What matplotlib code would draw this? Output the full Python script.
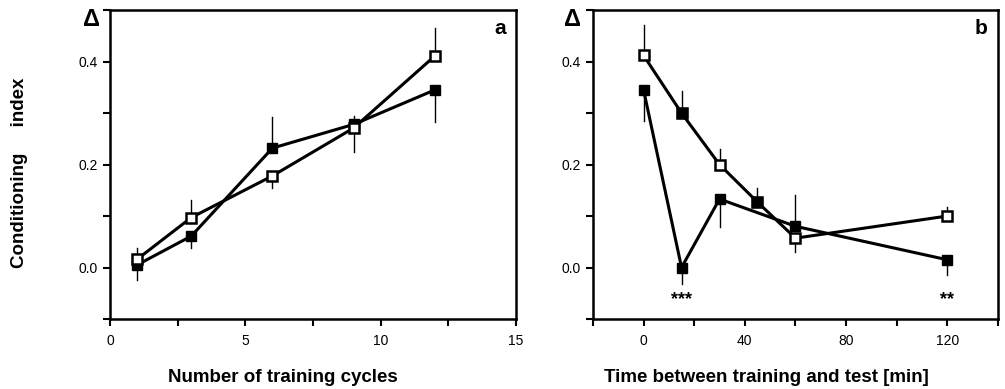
#! /usr/bin/env python3

import numpy as np
import matplotlib.pyplot as plt
from matplotlib.ticker import MultipleLocator

# Panel a: training cycles
cycles = [1, 3, 6, 9, 12]
a_open = [0.016, 0.097, 0.178, 0.271, 0.411]
a_open_err = [0.021, 0.035, -0.023, -0.046, 0.054]   # sign = direction of the one-sided bar
a_filled = [0.005, 0.061, 0.232, 0.278, 0.345]
a_filled_err = [-0.029, -0.024, 0.060, 0.017, -0.063]

# Panel b: time between training and test
t_open = [0, 15, 30, 45, 60, 120]
b_open = [0.412, 0.300, 0.200, 0.127, 0.057, 0.100]
b_open_err = [0.060, 0.043, 0.030, 0.028, -0.027, 0.017]
t_filled = [0, 15, 30, 60, 120]
b_filled = [0.345, 0.000, 0.133, 0.080, 0.015]
b_filled_err = [-0.061, -0.033, -0.054, 0.061, -0.030]

stars_x = [15, 120]
stars = ['***', '**']

plt.rcParams['font.family'] = ['Liberation Sans', 'DejaVu Sans']


def one_sided(ax, x, y, err):
    """ draw the thin one-sided error bars """
    for xi, yi, e in zip(x, y, err):
        ax.plot([xi, xi], [yi, yi + e], color='black', lw=1.0, zorder=1)


def style_axes(ax):
    for s in ax.spines.values():
        s.set_linewidth(1.8)
    ax.set_ylim(-0.1, 0.5)
    ax.yaxis.set_major_locator(MultipleLocator(0.2))
    ax.yaxis.set_minor_locator(MultipleLocator(0.1))
    ax.tick_params(which='both', direction='out', length=5, width=1.5,
                   labelsize=10, top=False, right=False)
    ax.tick_params(axis='x', pad=6)
    ax.set_yticks([0.0, 0.2, 0.4])
    ax.set_yticklabels(['0.0', '0.2', '0.4'])


fig = plt.figure(figsize=(10.05, 3.89), dpi=100)
ax1 = fig.add_axes([0.1095, 0.180, 0.404, 0.794])
ax2 = fig.add_axes([0.590, 0.180, 0.403, 0.794])

# panel a
one_sided(ax1, cycles, a_open, a_open_err)
one_sided(ax1, cycles, a_filled, a_filled_err)
ax1.plot(cycles, a_filled, color='black', lw=2.2, marker='s', ms=6.5,
         mfc='black', mec='black', zorder=3)
ax1.plot(cycles, a_open, color='black', lw=2.2, marker='s', ms=6.5,
         mfc='white', mec='black', mew=1.8, zorder=3)
ax1.set_xlim(0, 15)
ax1.xaxis.set_major_locator(MultipleLocator(5))
ax1.xaxis.set_minor_locator(MultipleLocator(2.5))
style_axes(ax1)
ax1.text(0.975, 0.94, 'a', transform=ax1.transAxes, ha='right', va='center',
         fontsize=15, fontweight='bold')

# panel b
one_sided(ax2, t_open, b_open, b_open_err)
one_sided(ax2, t_filled, b_filled, b_filled_err)
ax2.plot(t_filled, b_filled, color='black', lw=2.2, marker='s', ms=6.5,
         mfc='black', mec='black', zorder=3)
ax2.plot(t_open, b_open, color='black', lw=2.2, marker='s', ms=6.5,
         mfc='white', mec='black', mew=1.8, zorder=3)
# two points of the upper curve are printed solid
solid = [1, 3]
ax2.plot([t_open[i] for i in solid], [b_open[i] for i in solid], ls='none',
         marker='s', ms=6.5, mfc='black', mec='black', zorder=4)
for xs, s in zip(stars_x, stars):
    ax2.text(xs, -0.062, s, ha='center', va='center', fontsize=13,
             fontweight='bold')
ax2.set_xlim(-20, 140)
ax2.xaxis.set_major_locator(MultipleLocator(40))
ax2.xaxis.set_minor_locator(MultipleLocator(20))
style_axes(ax2)
ax2.text(0.975, 0.94, 'b', transform=ax2.transAxes, ha='right', va='center',
         fontsize=15, fontweight='bold')

# delta marks above the y axes
fig.text(91 / 1005, 1 - 20 / 389, '\u0394', ha='center', va='center',
         fontsize=17, fontweight='bold')
fig.text(572 / 1005, 1 - 20 / 389, '\u0394', ha='center', va='center',
         fontsize=17, fontweight='bold')

fig.text(20 / 1005, 1 - 173 / 389, 'Conditioning     index', rotation=90,
         ha='center', va='center', fontsize=13.5, fontweight='bold')
fig.text(283 / 1005, 1 - 378 / 389, 'Number of training cycles',
         ha='center', va='center', fontsize=13.5, fontweight='bold')
fig.text(766 / 1005, 1 - 378 / 389, 'Time between training and test [min]',
         ha='center', va='center', fontsize=13.5, fontweight='bold')

plt.savefig('out.png', dpi=100)
